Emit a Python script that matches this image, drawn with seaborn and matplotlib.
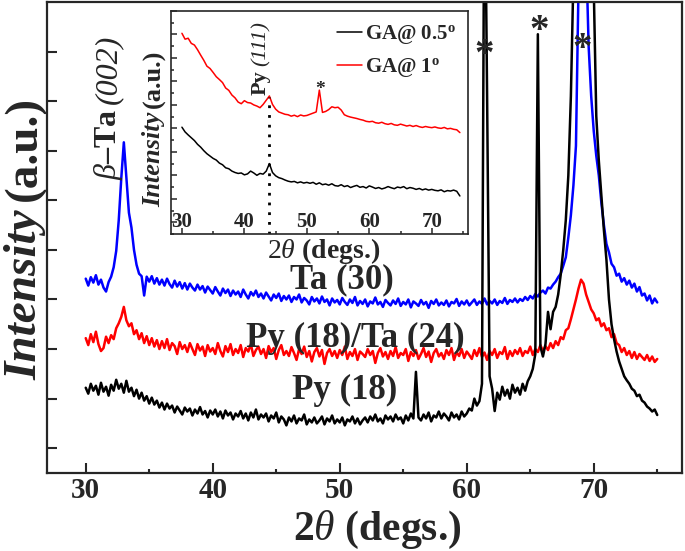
import numpy as np
import pandas as pd
import seaborn as sns
import matplotlib.pyplot as plt
from matplotlib.ticker import MultipleLocator

sns.set_style("ticks")
plt.rcParams["font.family"] = ["Liberation Serif", "DejaVu Serif"]
plt.rcParams["mathtext.fontset"] = "custom"
plt.rcParams["mathtext.rm"] = "Liberation Serif"
plt.rcParams["mathtext.it"] = "Liberation Serif:italic"
plt.rcParams["mathtext.bf"] = "Liberation Serif:bold"

# main scans, sampled every 0.2 deg from 30 to 75 (intensity in arb. offset units)
two_theta = np.round(np.arange(30, 75.01, 0.2), 1)

ta30 = [
    3.92, 3.78, 3.95, 3.84, 3.99, 3.80, 3.90, 3.74, 3.66, 3.85,
    3.96, 4.15, 4.48, 5.10, 5.95, 6.67, 5.95, 5.25, 4.95, 4.50,
    4.20, 4.02, 3.97, 3.58, 3.96, 3.86, 3.97, 3.82, 3.93, 3.80,
    3.90, 3.78, 3.92, 3.81, 3.74, 3.88, 3.76, 3.85, 3.72, 3.83,
    3.70, 3.82, 3.74, 3.68, 3.80, 3.70, 3.77, 3.64, 3.76, 3.69,
    3.62, 3.75, 3.66, 3.58, 3.72, 3.63, 3.70, 3.57, 3.68, 3.60,
    3.66, 3.55, 3.70, 3.60, 3.52, 3.65, 3.58, 3.68, 3.55, 3.62,
    3.52, 3.64, 3.56, 3.48, 3.60, 3.53, 3.62, 3.47, 3.57, 3.50,
    3.58, 3.45, 3.55, 3.50, 3.60, 3.44, 3.53, 3.48, 3.40, 3.55,
    3.46, 3.52, 3.42, 3.56, 3.45, 3.50, 3.38, 3.52, 3.44, 3.49,
    3.40, 3.53, 3.45, 3.39, 3.50, 3.43, 3.55, 3.38, 3.47, 3.41,
    3.50, 3.36, 3.46, 3.42, 3.54, 3.40, 3.45, 3.35, 3.49, 3.43,
    3.38, 3.48, 3.41, 3.52, 3.37, 3.45, 3.40, 3.50, 3.34, 3.46,
    3.42, 3.37, 3.49, 3.40, 3.45, 3.33, 3.47, 3.41, 3.50, 3.38,
    3.44, 3.39, 3.48, 3.36, 3.45, 3.42, 3.51, 3.37, 3.46, 3.40,
    3.48, 3.38, 3.44, 3.50, 3.39, 3.46, 3.41, 3.52, 3.40, 3.47,
    3.42, 3.50, 3.39, 3.47, 3.43, 3.53, 3.41, 3.49, 3.45, 3.52,
    3.44, 3.51, 3.47, 3.55, 3.49, 3.57, 3.52, 3.61, 3.56, 3.64,
    3.68, 3.62, 3.74, 3.72, 3.80, 3.86, 3.95, 4.02, 4.18, 4.35,
    4.75, 5.20, 5.80, 6.60, 9.80, 13.0, 13.0, 10.5, 8.60, 7.60,
    6.90, 6.40, 6.00, 5.45, 5.00, 4.62, 4.45, 4.22, 4.15, 3.98,
    4.02, 3.86, 3.93, 3.80, 3.88, 3.74, 3.82, 3.66, 3.75, 3.58,
    3.62, 3.48, 3.58, 3.42, 3.52, 3.44,
]

py18_ta24 = [
    2.72, 2.58, 2.80, 2.64, 2.85, 2.60, 2.46, 2.52, 2.75, 2.62,
    2.78, 2.70, 2.92, 3.02, 3.15, 3.35, 3.08, 2.96, 3.02, 2.80,
    2.88, 2.70, 2.82, 2.62, 2.76, 2.58, 2.72, 2.55, 2.68, 2.50,
    2.66, 2.52, 2.70, 2.48, 2.62, 2.56, 2.40, 2.64, 2.50, 2.58,
    2.44, 2.62, 2.50, 2.38, 2.60, 2.47, 2.55, 2.36, 2.58, 2.45,
    2.52, 2.40, 2.62, 2.46, 2.35, 2.56, 2.44, 2.60, 2.38, 2.50,
    2.42, 2.58, 2.34, 2.52, 2.45, 2.60, 2.36, 2.48, 2.55, 2.40,
    2.50, 2.32, 2.56, 2.44, 2.52, 2.30, 2.48, 2.58, 2.38, 2.46,
    2.36, 2.54, 2.42, 2.28, 2.50, 2.40, 2.55, 2.34, 2.46, 2.25,
    2.44, 2.52, 2.35, 2.48, 2.20, 2.42, 2.50, 2.36, 2.46, 2.32,
    2.48, 2.38, 2.55, 2.30, 2.44, 2.36, 2.50, 2.28, 2.45, 2.40,
    2.34, 2.50, 2.38, 2.46, 2.22, 2.42, 2.52, 2.35, 2.44, 2.30,
    2.46, 2.36, 2.54, 2.32, 2.42, 2.38, 2.50, 2.26, 2.44, 2.36,
    2.48, 2.30, 2.40, 2.52, 2.34, 2.45, 2.24, 2.42, 2.50, 2.35,
    2.42, 2.30, 2.48, 2.38, 2.52, 2.28, 2.44, 2.36, 2.50, 2.32,
    2.45, 2.38, 2.30, 2.48, 2.36, 2.52, 2.34, 2.43, 2.28, 2.46,
    2.38, 2.50, 2.32, 2.44, 2.40, 2.54, 2.30, 2.46, 2.36, 2.48,
    2.40, 2.52, 2.36, 2.46, 2.42, 2.55, 2.38, 2.50, 2.44, 2.58,
    2.46, 2.56, 2.48, 2.62, 2.52, 2.66, 2.58, 2.74, 2.70, 2.88,
    2.92, 3.10, 3.30, 3.50, 3.72, 3.90, 3.82, 3.60, 3.45, 3.30,
    3.22, 3.08, 3.12, 2.96, 3.02, 2.88, 2.92, 2.74, 2.80, 2.62,
    2.58, 2.44, 2.52, 2.38, 2.46, 2.32, 2.44, 2.30, 2.40, 2.34,
    2.28, 2.38, 2.26, 2.35, 2.24, 2.30,
]

py18 = [
    1.72, 1.60, 1.80, 1.66, 1.76, 1.58, 1.82, 1.64, 1.74, 1.56,
    1.78, 1.66, 1.88, 1.70, 1.80, 1.62, 1.86, 1.64, 1.72, 1.55,
    1.68, 1.50, 1.62, 1.46, 1.55, 1.40, 1.52, 1.38, 1.46, 1.32,
    1.42, 1.28, 1.40, 1.30, 1.36, 1.22, 1.34, 1.26, 1.18, 1.32,
    1.24, 1.30, 1.16, 1.28, 1.20, 1.33, 1.18, 1.25, 1.12, 1.26,
    1.18, 1.28, 1.14, 1.24, 1.10, 1.26, 1.16, 1.22, 1.08, 1.20,
    1.14, 1.25, 1.10, 1.20, 1.06, 1.22, 1.12, 1.28, 1.08, 1.18,
    1.12, 1.20, 1.04, 1.16, 1.10, 1.22, 1.02, 1.14, 1.08, 0.96,
    1.12, 1.04, 1.16, 1.00, 1.10, 1.06, 1.18, 0.98, 1.08, 1.02,
    1.12, 1.00, 1.06, 1.14, 0.98, 1.10, 1.04, 1.16, 1.00, 1.08,
    1.02, 1.12, 0.96, 1.08, 1.04, 1.14, 1.00, 1.10, 0.98, 1.06,
    1.12, 1.02, 1.14, 1.06, 1.18, 1.04, 1.10, 1.00, 1.16, 1.08,
    1.14, 1.04, 1.18, 1.08, 1.12, 1.00, 1.16, 1.06, 1.20, 1.10,
    2.04, 1.12, 1.06, 1.18, 1.10, 1.22, 1.04, 1.16, 1.12, 1.24,
    1.10, 1.20, 1.14, 1.06, 1.22, 1.12, 1.18, 1.08, 1.24, 1.14,
    1.20, 1.30, 1.26, 1.50, 1.36, 1.45, 1.80, 13.0, 7.70, 1.95,
    1.70, 1.25, 1.62, 1.48, 1.74, 1.56, 1.68, 1.50, 1.78, 1.62,
    1.72, 1.58, 1.80, 1.66, 1.85, 1.95, 2.10, 2.40, 8.85, 2.55,
    2.35, 2.60, 3.25, 2.90, 3.25, 3.35, 3.60, 4.00, 4.50, 5.10,
    6.00, 7.60, 10.0, 13.0, 13.0, 13.0, 13.0, 13.0, 13.0, 13.0,
    9.80, 7.20, 6.30, 5.60, 4.90, 4.30, 3.50, 3.00, 2.70, 2.45,
    2.25, 2.10, 1.95, 1.87, 1.80, 1.70, 1.66, 1.55, 1.58, 1.46,
    1.42, 1.34, 1.30, 1.24, 1.28, 1.17,
]

main_labels = ["Ta (30)", "Py (18)/Ta (24)", "Py (18)"]
main_colors = ["#0000ff", "#ff0000", "#000000"]

# inset: grazing-angle scans, every 0.5 deg from 30 to 74.5
inset_theta = np.arange(30, 74.51, 0.5)

ga_1 = [
    8.55, 8.30, 8.34, 8.12, 8.05, 7.85, 7.62, 7.40, 7.15, 7.05,
    6.88, 6.70, 6.58, 6.45, 6.22, 6.12, 5.92, 5.80, 5.62, 5.55,
    5.68, 5.60, 5.58, 5.50, 5.45, 5.38, 5.52, 5.70, 5.88, 5.52,
    5.32, 5.20, 5.15, 5.10, 5.08, 5.02, 5.06, 5.00, 5.07, 5.03,
    5.05, 5.10, 5.15, 5.20, 6.13, 5.18, 5.22, 5.30, 5.42, 5.38,
    5.40, 5.28, 5.08, 5.02, 4.98, 4.95, 4.92, 4.88, 4.85, 4.80,
    4.78, 4.80, 4.74, 4.72, 4.76, 4.70, 4.67, 4.71, 4.65, 4.63,
    4.68, 4.64, 4.60, 4.63, 4.58, 4.62, 4.57, 4.54, 4.58, 4.55,
    4.53, 4.56, 4.52, 4.50, 4.54, 4.48, 4.50, 4.46, 4.44, 4.32,
]

ga_05 = [
    4.55, 4.35, 4.22, 4.10, 3.98, 3.82, 3.70, 3.55, 3.42, 3.32,
    3.22, 3.15, 3.02, 2.95, 2.82, 2.78, 2.68, 2.62, 2.58, 2.60,
    2.52, 2.56, 2.68, 2.60, 2.50, 2.58, 2.55, 2.68, 3.00, 2.62,
    2.48, 2.40, 2.36, 2.30, 2.25, 2.22, 2.24, 2.18, 2.22, 2.17,
    2.20, 2.16, 2.20, 2.12, 2.18, 2.10, 2.13, 2.08, 2.14, 2.06,
    2.04, 2.10, 2.02, 2.06, 1.98, 2.03, 2.07, 1.99, 2.02, 1.96,
    2.05, 2.00, 1.94, 1.98, 1.92, 1.96, 2.02, 1.97, 1.93, 2.00,
    1.97, 2.02, 1.93, 1.98, 1.95, 1.90, 1.94, 1.88, 1.92, 1.87,
    1.90, 1.86, 1.84, 1.88, 1.80, 1.85, 1.83, 1.87, 1.82, 1.62,
]

assert len(ta30) == len(py18_ta24) == len(py18) == len(two_theta)
assert len(ga_1) == len(ga_05) == len(inset_theta)

df = pd.DataFrame({"2theta": two_theta, "Ta (30)": ta30,
                   "Py (18)/Ta (24)": py18_ta24, "Py (18)": py18})

fig = plt.figure(figsize=(6.85, 5.51), dpi=100)
W, H = 685, 551
ax = fig.add_axes([47 / W, 78 / H, 635 / W, 471 / H])


def vtext(x_pix, y_pix, parts, gap=5):
    # vertical text made of several styled pieces, each starting where the last ended
    fig.canvas.draw()
    y = y_pix
    out = []
    for s, kw in parts:
        t = fig.text(x_pix / W, 1 - y / H, s, rotation=90, rotation_mode="anchor",
                     ha="left", va="baseline", **kw)
        fig.canvas.draw()
        bb = t.get_window_extent()
        y = H - bb.y1 - gap
        out.append(t)
    return out


for name, col in zip(main_labels, main_colors):
    sns.lineplot(data=df, x="2theta", y=name, color=col, lw=1.8, ax=ax,
                 estimator=None, sort=False)

ax.set_xlim(26.95, 76.95)
ax.set_ylim(0, 9.5)
ax.set_xlabel("")
ax.set_ylabel("")
ax.xaxis.set_major_locator(MultipleLocator(10))
ax.xaxis.set_minor_locator(MultipleLocator(5))
ax.set_yticks(np.arange(0.5, 9.0, 1.0))
ax.tick_params(which="both", direction="in", top=False, right=False, width=1.5)
ax.tick_params(axis="x", which="major", length=7, pad=3, labelsize=21)
ax.tick_params(axis="x", which="minor", length=3)
ax.tick_params(axis="y", which="major", length=7.5, labelleft=False)
plt.setp(ax.get_xticklabels(), fontweight="bold")
for s in ax.spines.values():
    s.set_linewidth(1.6)
    s.set_visible(True)

# sample labels
for x, y, t in [(50.2, 3.89, "Ta (30)"), (51.2, 2.72, "Py (18)/Ta (24)"),
                (50.4, 1.67, "Py (18)")]:
    ax.text(x, y, t, fontsize=25, fontweight="bold", ha="center", va="center")

for x, y in [(61.4, 8.23), (65.7, 8.71), (69.1, 8.35)]:
    ax.text(x, y, "*", fontsize=28, fontweight="bold", ha="center", va="baseline")

# inset
axi = fig.add_axes([171 / W, 1 - 234 / H, 297 / W, 223 / H])
axi.set_facecolor("white")
sns.lineplot(x=inset_theta, y=ga_05, color="black", lw=1.1, ax=axi,
             label="GA@ 0.5$^\\mathbf{o}$", estimator=None, sort=False)
sns.lineplot(x=inset_theta, y=ga_1, color="red", lw=1.1, ax=axi,
             label="GA@ 1$^\\mathbf{o}$", estimator=None, sort=False)
axi.set_xlim(28.25, 75.8)
axi.set_ylim(0, 9.5)
axi.xaxis.set_major_locator(MultipleLocator(10))
axi.xaxis.set_minor_locator(MultipleLocator(5))
axi.yaxis.set_major_locator(MultipleLocator(1, offset=0.5))
axi.yaxis.set_minor_locator(MultipleLocator(1))
axi.tick_params(which="both", direction="in", top=False, right=False, width=1.1)
axi.tick_params(axis="x", which="major", length=4, pad=-16, labelsize=15)
axi.tick_params(axis="x", which="minor", length=2)
axi.tick_params(axis="y", which="major", length=4, labelleft=False)
axi.tick_params(axis="y", which="minor", length=2)
plt.setp(axi.get_xticklabels(), fontweight="bold")
for s in axi.spines.values():
    s.set_linewidth(1.2)
    s.set_visible(True)
axi.set_xlabel("")
axi.set_ylabel("")

axi.plot([44.0, 44.0], [0, 5.83], color="black", lw=2, linestyle=(0, (1, 2.5)))
axi.text(52.1, 5.96, "*", fontsize=14, fontweight="bold", ha="center", va="baseline")

axi.legend(loc="upper right", bbox_to_anchor=(1.0, 1.0), frameon=False,
           handlelength=1.2, handletextpad=0.1, labelspacing=0.45,
           borderaxespad=0.2, prop={"family": "Liberation Serif",
                                    "weight": "bold", "size": 15})

# axis labels and rotated annotations
fig.text(377 / W, 1 - 530 / H, "$\\mathbf{2}\\theta$ (degs.)", fontsize=30,
         fontweight="bold", ha="center", va="center")
fig.text(324 / W, 1 - 251 / H, "$2\\theta$ (degs.)", fontsize=20,
         fontweight="bold", ha="center", va="center")

vtext(36, 380, [("Intensity", dict(fontsize=34, fontweight="bold", fontstyle="italic")),
                ("(a.u.)", dict(fontsize=34, fontweight="bold"))], gap=8)
vtext(160, 207, [("Intensity", dict(fontsize=19, fontweight="bold", fontstyle="italic")),
                 ("(a.u.)", dict(fontsize=19, fontweight="bold"))], gap=4)
vtext(116, 180, [("$\\beta$\u2013Ta", dict(fontsize=23, fontweight="bold")),
                 ("(002)", dict(fontsize=23, fontstyle="italic"))], gap=5)
vtext(266, 95, [("Py", dict(fontsize=16, fontweight="bold")),
                ("(111)", dict(fontsize=16, fontstyle="italic"))], gap=4)

fig.savefig("out.png", dpi=100)
